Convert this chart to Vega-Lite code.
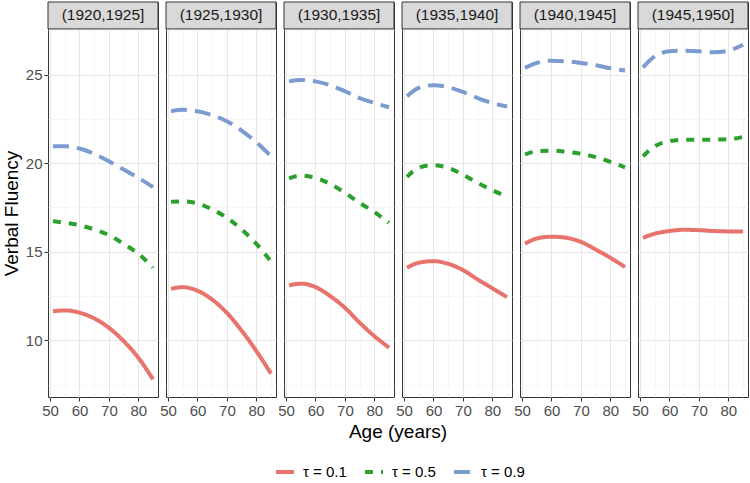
{
  "$schema": "https://vega.github.io/schema/vega-lite/v6.json",
  "padding": {"left": 2, "top": 1, "right": 0, "bottom": 0},
  "background": "white",
  "spacing": 8,
  "bounds": "flush",
  "config": {
    "font": "Liberation Sans",
    "view": {"stroke": "#333333", "strokeWidth": 1},
    "axis": {
      "domain": false,
      "labelFont": "Liberation Sans",
      "labelFontSize": 15,
      "labelColor": "#4D4D4D",
      "tickColor": "#333333",
      "tickSize": 4,
      "labelPadding": 2,
      "titleFont": "Liberation Sans",
      "titleFontSize": 19,
      "titleFontWeight": "normal",
      "titleColor": "#000000",
      "labelOverlap": false,
      "labelFlush": false,
      "labelBound": false
    }
  },
  "data": {"values": [
    {"cohort": "(1920,1925]", "tau": "τ = 0.1", "age": 51, "vf": 11.64},
    {"cohort": "(1920,1925]", "tau": "τ = 0.1", "age": 55, "vf": 11.69},
    {"cohort": "(1920,1925]", "tau": "τ = 0.1", "age": 60, "vf": 11.56},
    {"cohort": "(1920,1925]", "tau": "τ = 0.1", "age": 65, "vf": 11.24},
    {"cohort": "(1920,1925]", "tau": "τ = 0.1", "age": 70, "vf": 10.71},
    {"cohort": "(1920,1925]", "tau": "τ = 0.1", "age": 75, "vf": 9.96},
    {"cohort": "(1920,1925]", "tau": "τ = 0.1", "age": 80, "vf": 9.02},
    {"cohort": "(1920,1925]", "tau": "τ = 0.1", "age": 85, "vf": 7.80},
    {"cohort": "(1920,1925]", "tau": "τ = 0.5", "age": 51, "vf": 16.73},
    {"cohort": "(1920,1925]", "tau": "τ = 0.5", "age": 55, "vf": 16.64},
    {"cohort": "(1920,1925]", "tau": "τ = 0.5", "age": 60, "vf": 16.50},
    {"cohort": "(1920,1925]", "tau": "τ = 0.5", "age": 65, "vf": 16.26},
    {"cohort": "(1920,1925]", "tau": "τ = 0.5", "age": 70, "vf": 15.94},
    {"cohort": "(1920,1925]", "tau": "τ = 0.5", "age": 75, "vf": 15.45},
    {"cohort": "(1920,1925]", "tau": "τ = 0.5", "age": 80, "vf": 14.89},
    {"cohort": "(1920,1925]", "tau": "τ = 0.5", "age": 85, "vf": 14.10},
    {"cohort": "(1920,1925]", "tau": "τ = 0.9", "age": 51, "vf": 20.96},
    {"cohort": "(1920,1925]", "tau": "τ = 0.9", "age": 55, "vf": 20.96},
    {"cohort": "(1920,1925]", "tau": "τ = 0.9", "age": 60, "vf": 20.83},
    {"cohort": "(1920,1925]", "tau": "τ = 0.9", "age": 65, "vf": 20.53},
    {"cohort": "(1920,1925]", "tau": "τ = 0.9", "age": 70, "vf": 20.11},
    {"cohort": "(1920,1925]", "tau": "τ = 0.9", "age": 75, "vf": 19.64},
    {"cohort": "(1920,1925]", "tau": "τ = 0.9", "age": 80, "vf": 19.17},
    {"cohort": "(1920,1925]", "tau": "τ = 0.9", "age": 85, "vf": 18.65},

    {"cohort": "(1925,1930]", "tau": "τ = 0.1", "age": 51, "vf": 12.91},
    {"cohort": "(1925,1930]", "tau": "τ = 0.1", "age": 55, "vf": 13.00},
    {"cohort": "(1925,1930]", "tau": "τ = 0.1", "age": 60, "vf": 12.80},
    {"cohort": "(1925,1930]", "tau": "τ = 0.1", "age": 65, "vf": 12.30},
    {"cohort": "(1925,1930]", "tau": "τ = 0.1", "age": 70, "vf": 11.55},
    {"cohort": "(1925,1930]", "tau": "τ = 0.1", "age": 75, "vf": 10.55},
    {"cohort": "(1925,1930]", "tau": "τ = 0.1", "age": 80, "vf": 9.40},
    {"cohort": "(1925,1930]", "tau": "τ = 0.1", "age": 85, "vf": 8.12},
    {"cohort": "(1925,1930]", "tau": "τ = 0.5", "age": 51, "vf": 17.82},
    {"cohort": "(1925,1930]", "tau": "τ = 0.5", "age": 55, "vf": 17.84},
    {"cohort": "(1925,1930]", "tau": "τ = 0.5", "age": 60, "vf": 17.73},
    {"cohort": "(1925,1930]", "tau": "τ = 0.5", "age": 65, "vf": 17.39},
    {"cohort": "(1925,1930]", "tau": "τ = 0.5", "age": 70, "vf": 16.92},
    {"cohort": "(1925,1930]", "tau": "τ = 0.5", "age": 75, "vf": 16.26},
    {"cohort": "(1925,1930]", "tau": "τ = 0.5", "age": 80, "vf": 15.45},
    {"cohort": "(1925,1930]", "tau": "τ = 0.5", "age": 85, "vf": 14.44},
    {"cohort": "(1925,1930]", "tau": "τ = 0.9", "age": 51, "vf": 22.93},
    {"cohort": "(1925,1930]", "tau": "τ = 0.9", "age": 55, "vf": 23.01},
    {"cohort": "(1925,1930]", "tau": "τ = 0.9", "age": 60, "vf": 22.93},
    {"cohort": "(1925,1930]", "tau": "τ = 0.9", "age": 65, "vf": 22.71},
    {"cohort": "(1925,1930]", "tau": "τ = 0.9", "age": 70, "vf": 22.37},
    {"cohort": "(1925,1930]", "tau": "τ = 0.9", "age": 75, "vf": 21.84},
    {"cohort": "(1925,1930]", "tau": "τ = 0.9", "age": 80, "vf": 21.18},
    {"cohort": "(1925,1930]", "tau": "τ = 0.9", "age": 85, "vf": 20.39},

    {"cohort": "(1930,1935]", "tau": "τ = 0.1", "age": 51, "vf": 13.10},
    {"cohort": "(1930,1935]", "tau": "τ = 0.1", "age": 55, "vf": 13.20},
    {"cohort": "(1930,1935]", "tau": "τ = 0.1", "age": 60, "vf": 13.01},
    {"cohort": "(1930,1935]", "tau": "τ = 0.1", "age": 65, "vf": 12.50},
    {"cohort": "(1930,1935]", "tau": "τ = 0.1", "age": 70, "vf": 11.84},
    {"cohort": "(1930,1935]", "tau": "τ = 0.1", "age": 75, "vf": 11.00},
    {"cohort": "(1930,1935]", "tau": "τ = 0.1", "age": 80, "vf": 10.24},
    {"cohort": "(1930,1935]", "tau": "τ = 0.1", "age": 85, "vf": 9.59},
    {"cohort": "(1930,1935]", "tau": "τ = 0.5", "age": 51, "vf": 19.14},
    {"cohort": "(1930,1935]", "tau": "τ = 0.5", "age": 55, "vf": 19.30},
    {"cohort": "(1930,1935]", "tau": "τ = 0.5", "age": 60, "vf": 19.17},
    {"cohort": "(1930,1935]", "tau": "τ = 0.5", "age": 65, "vf": 18.83},
    {"cohort": "(1930,1935]", "tau": "τ = 0.5", "age": 70, "vf": 18.33},
    {"cohort": "(1930,1935]", "tau": "τ = 0.5", "age": 75, "vf": 17.76},
    {"cohort": "(1930,1935]", "tau": "τ = 0.5", "age": 80, "vf": 17.24},
    {"cohort": "(1930,1935]", "tau": "τ = 0.5", "age": 85, "vf": 16.64},
    {"cohort": "(1930,1935]", "tau": "τ = 0.9", "age": 51, "vf": 24.62},
    {"cohort": "(1930,1935]", "tau": "τ = 0.9", "age": 55, "vf": 24.70},
    {"cohort": "(1930,1935]", "tau": "τ = 0.9", "age": 60, "vf": 24.62},
    {"cohort": "(1930,1935]", "tau": "τ = 0.9", "age": 65, "vf": 24.40},
    {"cohort": "(1930,1935]", "tau": "τ = 0.9", "age": 70, "vf": 24.06},
    {"cohort": "(1930,1935]", "tau": "τ = 0.9", "age": 75, "vf": 23.68},
    {"cohort": "(1930,1935]", "tau": "τ = 0.9", "age": 80, "vf": 23.40},
    {"cohort": "(1930,1935]", "tau": "τ = 0.9", "age": 85, "vf": 23.16},

    {"cohort": "(1935,1940]", "tau": "τ = 0.1", "age": 51, "vf": 14.10},
    {"cohort": "(1935,1940]", "tau": "τ = 0.1", "age": 55, "vf": 14.38},
    {"cohort": "(1935,1940]", "tau": "τ = 0.1", "age": 60, "vf": 14.47},
    {"cohort": "(1935,1940]", "tau": "τ = 0.1", "age": 65, "vf": 14.32},
    {"cohort": "(1935,1940]", "tau": "τ = 0.1", "age": 70, "vf": 13.97},
    {"cohort": "(1935,1940]", "tau": "τ = 0.1", "age": 75, "vf": 13.44},
    {"cohort": "(1935,1940]", "tau": "τ = 0.1", "age": 80, "vf": 12.94},
    {"cohort": "(1935,1940]", "tau": "τ = 0.1", "age": 85, "vf": 12.44},
    {"cohort": "(1935,1940]", "tau": "τ = 0.5", "age": 51, "vf": 19.23},
    {"cohort": "(1935,1940]", "tau": "τ = 0.5", "age": 55, "vf": 19.74},
    {"cohort": "(1935,1940]", "tau": "τ = 0.5", "age": 60, "vf": 19.89},
    {"cohort": "(1935,1940]", "tau": "τ = 0.5", "age": 65, "vf": 19.74},
    {"cohort": "(1935,1940]", "tau": "τ = 0.5", "age": 70, "vf": 19.36},
    {"cohort": "(1935,1940]", "tau": "τ = 0.5", "age": 75, "vf": 18.89},
    {"cohort": "(1935,1940]", "tau": "τ = 0.5", "age": 80, "vf": 18.48},
    {"cohort": "(1935,1940]", "tau": "τ = 0.5", "age": 85, "vf": 18.10},
    {"cohort": "(1935,1940]", "tau": "τ = 0.9", "age": 51, "vf": 23.78},
    {"cohort": "(1935,1940]", "tau": "τ = 0.9", "age": 55, "vf": 24.25},
    {"cohort": "(1935,1940]", "tau": "τ = 0.9", "age": 60, "vf": 24.40},
    {"cohort": "(1935,1940]", "tau": "τ = 0.9", "age": 65, "vf": 24.29},
    {"cohort": "(1935,1940]", "tau": "τ = 0.9", "age": 70, "vf": 24.02},
    {"cohort": "(1935,1940]", "tau": "τ = 0.9", "age": 75, "vf": 23.68},
    {"cohort": "(1935,1940]", "tau": "τ = 0.9", "age": 80, "vf": 23.40},
    {"cohort": "(1935,1940]", "tau": "τ = 0.9", "age": 85, "vf": 23.20},

    {"cohort": "(1940,1945]", "tau": "τ = 0.1", "age": 51, "vf": 15.45},
    {"cohort": "(1940,1945]", "tau": "τ = 0.1", "age": 55, "vf": 15.75},
    {"cohort": "(1940,1945]", "tau": "τ = 0.1", "age": 60, "vf": 15.85},
    {"cohort": "(1940,1945]", "tau": "τ = 0.1", "age": 65, "vf": 15.79},
    {"cohort": "(1940,1945]", "tau": "τ = 0.1", "age": 70, "vf": 15.56},
    {"cohort": "(1940,1945]", "tau": "τ = 0.1", "age": 75, "vf": 15.13},
    {"cohort": "(1940,1945]", "tau": "τ = 0.1", "age": 80, "vf": 14.66},
    {"cohort": "(1940,1945]", "tau": "τ = 0.1", "age": 85, "vf": 14.14},
    {"cohort": "(1940,1945]", "tau": "τ = 0.5", "age": 51, "vf": 20.49},
    {"cohort": "(1940,1945]", "tau": "τ = 0.5", "age": 55, "vf": 20.68},
    {"cohort": "(1940,1945]", "tau": "τ = 0.5", "age": 60, "vf": 20.71},
    {"cohort": "(1940,1945]", "tau": "τ = 0.5", "age": 65, "vf": 20.64},
    {"cohort": "(1940,1945]", "tau": "τ = 0.5", "age": 70, "vf": 20.53},
    {"cohort": "(1940,1945]", "tau": "τ = 0.5", "age": 75, "vf": 20.34},
    {"cohort": "(1940,1945]", "tau": "τ = 0.5", "age": 80, "vf": 20.08},
    {"cohort": "(1940,1945]", "tau": "τ = 0.5", "age": 85, "vf": 19.77},
    {"cohort": "(1940,1945]", "tau": "τ = 0.9", "age": 51, "vf": 25.38},
    {"cohort": "(1940,1945]", "tau": "τ = 0.9", "age": 55, "vf": 25.66},
    {"cohort": "(1940,1945]", "tau": "τ = 0.9", "age": 60, "vf": 25.79},
    {"cohort": "(1940,1945]", "tau": "τ = 0.9", "age": 65, "vf": 25.75},
    {"cohort": "(1940,1945]", "tau": "τ = 0.9", "age": 70, "vf": 25.66},
    {"cohort": "(1940,1945]", "tau": "τ = 0.9", "age": 75, "vf": 25.53},
    {"cohort": "(1940,1945]", "tau": "τ = 0.9", "age": 80, "vf": 25.36},
    {"cohort": "(1940,1945]", "tau": "τ = 0.9", "age": 85, "vf": 25.23},

    {"cohort": "(1945,1950]", "tau": "τ = 0.1", "age": 51, "vf": 15.79},
    {"cohort": "(1945,1950]", "tau": "τ = 0.1", "age": 55, "vf": 16.02},
    {"cohort": "(1945,1950]", "tau": "τ = 0.1", "age": 60, "vf": 16.17},
    {"cohort": "(1945,1950]", "tau": "τ = 0.1", "age": 65, "vf": 16.24},
    {"cohort": "(1945,1950]", "tau": "τ = 0.1", "age": 70, "vf": 16.22},
    {"cohort": "(1945,1950]", "tau": "τ = 0.1", "age": 75, "vf": 16.17},
    {"cohort": "(1945,1950]", "tau": "τ = 0.1", "age": 80, "vf": 16.15},
    {"cohort": "(1945,1950]", "tau": "τ = 0.1", "age": 85, "vf": 16.15},
    {"cohort": "(1945,1950]", "tau": "τ = 0.5", "age": 51, "vf": 20.39},
    {"cohort": "(1945,1950]", "tau": "τ = 0.5", "age": 55, "vf": 20.96},
    {"cohort": "(1945,1950]", "tau": "τ = 0.5", "age": 60, "vf": 21.24},
    {"cohort": "(1945,1950]", "tau": "τ = 0.5", "age": 65, "vf": 21.33},
    {"cohort": "(1945,1950]", "tau": "τ = 0.5", "age": 70, "vf": 21.33},
    {"cohort": "(1945,1950]", "tau": "τ = 0.5", "age": 75, "vf": 21.33},
    {"cohort": "(1945,1950]", "tau": "τ = 0.5", "age": 80, "vf": 21.35},
    {"cohort": "(1945,1950]", "tau": "τ = 0.5", "age": 85, "vf": 21.48},
    {"cohort": "(1945,1950]", "tau": "τ = 0.9", "age": 51, "vf": 25.41},
    {"cohort": "(1945,1950]", "tau": "τ = 0.9", "age": 55, "vf": 26.03},
    {"cohort": "(1945,1950]", "tau": "τ = 0.9", "age": 60, "vf": 26.32},
    {"cohort": "(1945,1950]", "tau": "τ = 0.9", "age": 65, "vf": 26.35},
    {"cohort": "(1945,1950]", "tau": "τ = 0.9", "age": 70, "vf": 26.32},
    {"cohort": "(1945,1950]", "tau": "τ = 0.9", "age": 75, "vf": 26.26},
    {"cohort": "(1945,1950]", "tau": "τ = 0.9", "age": 80, "vf": 26.35},
    {"cohort": "(1945,1950]", "tau": "τ = 0.9", "age": 85, "vf": 26.69}
  ]},
  "facet": {
    "column": {
      "field": "cohort",
      "type": "nominal",
      "sort": ["(1920,1925]", "(1925,1930]", "(1930,1935]", "(1935,1940]", "(1940,1945]", "(1945,1950]"],
      "header": {
        "title": "Age (years)",
        "titleOrient": "bottom",
        "titleFont": "Liberation Sans",
        "titleFontSize": 19,
        "titleFontWeight": "normal",
        "titleColor": "#000000",
        "titlePadding": -5,
        "labels": false
      }
    }
  },
  "spec": {
    "width": 110,
    "height": 395,
    "layer": [
      {
        "mark": {"type": "line", "strokeWidth": 4, "interpolate": "monotone"},
        "encoding": {
          "x": {
            "field": "age", "type": "quantitative",
            "scale": {"domain": [49.3, 86.7], "nice": false, "zero": false},
            "axis": {
              "title": null,
              "values": [50, 55, 60, 65, 70, 75, 80, 85],
              "tickCount": 20,
              "labelOverlap": false,
              "labelBound": false,
              "labelFlush": false,
              "labelExpr": "datum.value % 10 === 0 ? datum.label : ''",
              "tickOpacity": {"condition": {"test": "datum.value % 10 === 0", "value": 1}, "value": 0},
              "gridColor": {"condition": {"test": "datum.value % 10 === 0", "value": "#E6E6E6"}, "value": "#F1F1F1"},
              "gridWidth": {"condition": {"test": "datum.value % 10 === 0", "value": 1}, "value": 0.6}
            }
          },
          "y": {
            "field": "vf", "type": "quantitative",
            "scale": {"domain": [6.8, 29.1], "nice": false, "zero": false},
            "axis": {
              "title": "Verbal Fluency",
              "titlePadding": 4,
              "titleY": 211,
              "tickCount": 20,
              "values": [7.5, 10, 12.5, 15, 17.5, 20, 22.5, 25, 27.5],
              "labelOverlap": false,
              "labelExpr": "datum.value % 5 === 0 ? datum.label : ''",
              "tickOpacity": {"condition": {"test": "datum.value % 5 === 0", "value": 1}, "value": 0},
              "gridColor": {"condition": {"test": "datum.value % 5 === 0", "value": "#E6E6E6"}, "value": "#F1F1F1"},
              "gridWidth": {"condition": {"test": "datum.value % 5 === 0", "value": 1}, "value": 0.6}
            }
          },
          "color": {
            "field": "tau", "type": "nominal",
            "scale": {"domain": ["τ = 0.1", "τ = 0.5", "τ = 0.9"], "range": ["#E8736C", "#2CA02C", "#7B9BD1"]},
            "legend": {
              "title": null, "orient": "none", "direction": "horizontal",
              "legendX": 226, "legendY": 459,
              "symbolType": "stroke", "symbolStrokeWidth": 4, "symbolSize": 324,
              "labelFontSize": 15, "labelColor": "#000000", "labelFont": "Liberation Sans",
              "labelOffset": 7, "columnPadding": 10
            }
          },
          "strokeDash": {
            "field": "tau", "type": "nominal",
            "scale": {"domain": ["τ = 0.1", "τ = 0.5", "τ = 0.9"], "range": [[1, 0], [8, 8], [16, 8]]},
            "legend": {
              "title": null, "orient": "none", "direction": "horizontal",
              "legendX": 226, "legendY": 459,
              "symbolType": "stroke", "symbolStrokeWidth": 4, "symbolSize": 324,
              "labelFontSize": 15, "labelColor": "#000000", "labelFont": "Liberation Sans",
              "labelOffset": 7, "columnPadding": 10
            }
          }
        }
      },
      {
        "transform": [{"aggregate": [{"op": "count", "as": "n"}], "groupby": ["cohort"]}],
        "mark": {"type": "rect", "fill": "#D9D9D9", "stroke": "#333333", "strokeWidth": 1},
        "encoding": {
          "x": {"datum": 49.3, "type": "quantitative"},
          "x2": {"datum": 86.7},
          "y": {"datum": 27.58, "type": "quantitative"},
          "y2": {"datum": 29.1}
        }
      },
      {
        "transform": [{"aggregate": [{"op": "count", "as": "n"}], "groupby": ["cohort"]}],
        "mark": {"type": "text", "fontSize": 15.5, "color": "#1A1A1A", "font": "Liberation Sans", "baseline": "middle", "align": "center"},
        "encoding": {
          "x": {"datum": 68, "type": "quantitative"},
          "y": {"datum": 28.34, "type": "quantitative"},
          "text": {"field": "cohort", "type": "nominal"}
        }
      }
    ]
  }
}
